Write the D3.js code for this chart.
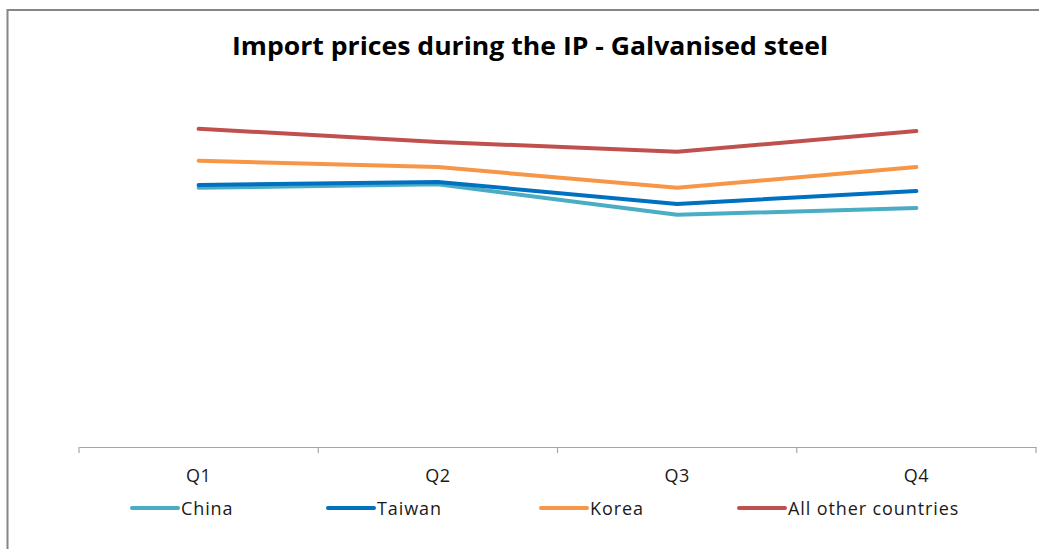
<!DOCTYPE html>
<html>
<head>
<meta charset="utf-8">
<script src="https://cdnjs.cloudflare.com/ajax/libs/d3/7.8.5/d3.min.js"></script>
<style>
  html, body { margin: 0; padding: 0; background: #fff; }
  svg { display: block; font-family: "Open Sans", "Noto Sans", sans-serif; }
</style>
</head>
<body>
<div id="chart"></div>
<script>
// data (no y axis shown, rough price levels)
var quarters = ["Q1", "Q2", "Q3", "Q4"];
var china = [576, 584, 516, 531];
var taiwan = [582, 589, 540, 569];
var korea = [636, 622, 576, 622];
var others = [707, 678, 656, 702];
var seriesNames = ["China", "Taiwan", "Korea", "All other countries"];
var seriesColors = ["#4bacc6", "#0070c0", "#f79646", "#c0504d"];

var W = 1039, H = 549;
var svg = d3.select("#chart").append("svg")
    .attr("width", W)
    .attr("height", H);

// chart frame (only top and left edges are visible in the crop)
svg.append("line")
    .attr("x1", 7).attr("x2", W).attr("y1", 10).attr("y2", 10)
    .style("stroke", "#868686").style("stroke-width", 2);
svg.append("line")
    .attr("x1", 7.5).attr("x2", 7.5).attr("y1", 9).attr("y2", H)
    .style("stroke", "#868686").style("stroke-width", 2);

// title
svg.append("text")
    .attr("x", 530)
    .attr("y", 55)
    .attr("text-anchor", "middle")
    .attr("textLength", 596)
    .attr("lengthAdjust", "spacingAndGlyphs")
    .style("font-weight", "bold")
    .style("font-size", "25px")
    .style("fill", "#000")
    .text("Import prices during the IP - Galvanised steel");

var x = d3.scaleBand().domain(quarters).range([79, 1036]);
var y = d3.scaleLinear().domain([0, 800]).range([447, 87]);

// x axis
var axis = svg.append("g").attr("transform", "translate(0,447)")
    .call(d3.axisBottom(x).tickSize(0).tickPadding(0));
axis.select(".domain").style("stroke", "#a6a6a6").style("stroke-width", 1.2);
axis.selectAll(".tick text")
    .attr("y", 22)
    .style("font-size", "18px")
    .style("letter-spacing", "0.6px")
    .style("fill", "#1a1a1a")
    .style("font-family", "Open Sans, Noto Sans, sans-serif");

// tick marks on band edges
var edges = quarters.map(function(q) { return x(q); }).concat([x.range()[1]]);
axis.selectAll(".edge").data(edges).enter().append("line")
    .attr("class", "edge")
    .attr("x1", function(d) { return d; })
    .attr("x2", function(d) { return d; })
    .attr("y1", 0).attr("y2", 6)
    .style("stroke", "#a6a6a6").style("stroke-width", 1.2);

var allSeries = [china, taiwan, korea, others];
var line = d3.line()
    .x(function(d, i) { return x(quarters[i]) + x.bandwidth() / 2; })
    .y(function(d) { return y(d); });

svg.selectAll(".series").data(allSeries).enter().append("path")
    .attr("class", "series")
    .attr("d", line)
    .style("fill", "none")
    .style("stroke", function(d, i) { return seriesColors[i]; })
    .style("stroke-width", 4)
    .style("stroke-linecap", "round")
    .style("stroke-linejoin", "round");

// legend
var legendX = [131, 327, 540, 738];
var leg = svg.selectAll(".leg").data(seriesNames).enter().append("g")
    .attr("class", "leg")
    .attr("transform", function(d, i) { return "translate(" + legendX[i] + ",508)"; });
leg.append("line")
    .attr("x1", 1).attr("x2", 47).attr("y1", 0).attr("y2", 0)
    .style("stroke", function(d, i) { return seriesColors[i]; })
    .style("stroke-width", 4)
    .style("stroke-linecap", "round");
leg.append("text")
    .attr("x", 50)
    .attr("y", 7)
    .style("font-size", "18px")
    .style("letter-spacing", "0.9px")
    .style("fill", "#1a1a1a")
    .text(function(d) { return d; });
</script>
</body>
</html>
